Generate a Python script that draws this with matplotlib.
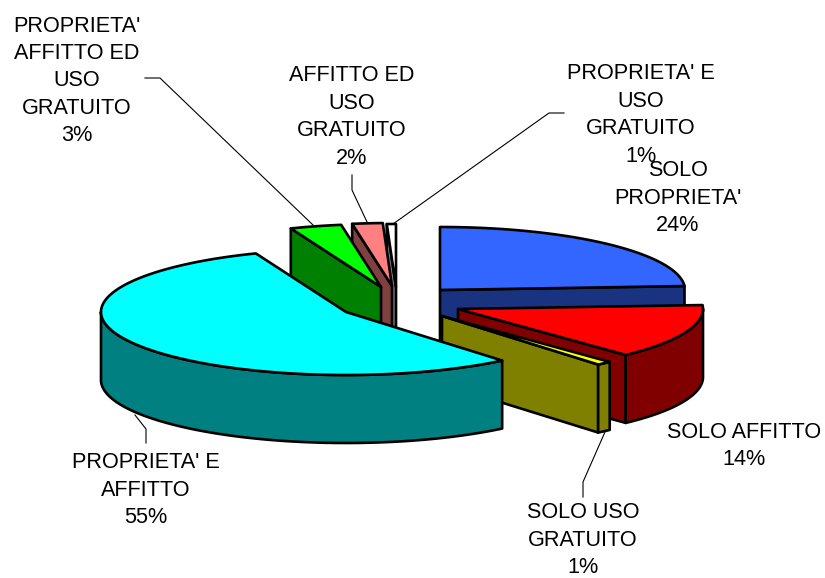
#!/usr/bin/python3

import numpy as np
import matplotlib
matplotlib.use("Agg")
import matplotlib.pyplot as plt
from matplotlib.patches import Polygon

names = [
    "SOLO\nPROPRIETA'",
    "SOLO AFFITTO",
    "SOLO USO\nGRATUITO",
    "PROPRIETA' E\nAFFITTO",
    "PROPRIETA'\nAFFITTO ED\nUSO\nGRATUITO",
    "AFFITTO ED\nUSO\nGRATUITO",
    "PROPRIETA' E\nUSO\nGRATUITO",
]
shares = [24, 14, 1, 55, 3.4, 2, 0.6]
top_colors = ["#3366ff", "#ff0000", "#ffff00", "#00ffff", "#00ff00", "#ff8080", "#ffffff"]
side_colors = ["#1a3380", "#800000", "#808000", "#008080", "#008000", "#804040", "#808080"]

# pixel layout of the picture
RX, RY, DEPTH = 245, 63, 68
apex = [(440, 290), (458, 309), (442, 316), (346, 312), (381, 287), (392, 286), (396, 287)]
label_pos = [(678, 198), (744, 446), (583, 540), (146, 490), (77, 81), (352, 117), (641, 115)]
leaders = [
    None,
    None,
    [(583, 497), (583, 482), (605, 432)],
    [(146, 443), (146, 429), (135, 415)],
    [(145, 78), (160, 78), (313, 225)],
    [(352, 175), (352, 190), (367, 222)],
    [(564, 113), (549, 113), (393, 224)],
]
draw_order = [6, 5, 4, 0, 1, 2, 3]


def rim(centre, start, end):
    """Points of the ellipse arc, angles in degrees clockwise from north."""
    t = np.radians(np.linspace(start, end, max(int(abs(end - start)) * 2, 2)))
    return np.column_stack([centre[0] + RX * np.sin(t), centre[1] - RY * np.cos(t)])


def add_poly(ax, pts, color):
    ax.add_patch(Polygon(pts, closed=True, facecolor=color, edgecolor="black",
                         linewidth=1.9, joinstyle="round"))


def main():
    plt.rcParams["font.family"] = ["Liberation Sans", "DejaVu Sans"]
    fig = plt.figure(figsize=(8.25, 5.78), dpi=100)
    ax = fig.add_axes([0, 0, 1, 1])
    ax.set_xlim(0, 825)
    ax.set_ylim(578, 0)
    ax.axis("off")

    edges = np.cumsum([0] + shares) * 3.6
    down = np.array([0, DEPTH])

    for i in draw_order:
        start, end = edges[i], edges[i + 1]
        c = np.array(apex[i])

        # the flat cut faces that look towards the viewer
        if end < 180:
            p = rim(c, end, end)[0]
            add_poly(ax, [c, p, p + down, c + down], side_colors[i])
        if start > 180:
            p = rim(c, start, start)[0]
            add_poly(ax, [c, p, p + down, c + down], side_colors[i])

        # outer wall, only the front half shows
        a, b = max(start, 90), min(end, 270)
        if a < b:
            arc = rim(c, a, b)
            add_poly(ax, np.vstack([arc, arc[::-1] + down]), side_colors[i])

        add_poly(ax, np.vstack([[c], rim(c, start, end)]), top_colors[i])

    for line in leaders:
        if line:
            xs, ys = zip(*line)
            ax.plot(xs, ys, color="black", lw=0.8)

    for name, share, pos in zip(names, shares, label_pos):
        ax.text(pos[0], pos[1], "%s\n%d%%" % (name, round(share)), ha="center", va="center",
                fontsize=15.6, linespacing=1.4, color="black")

    fig.savefig("out.png", dpi=100)


if __name__ == "__main__":
    main()
